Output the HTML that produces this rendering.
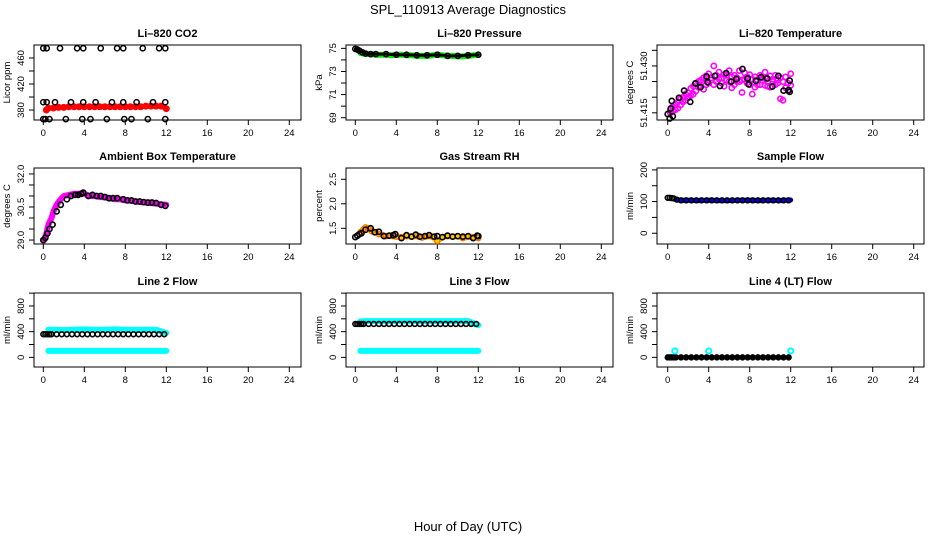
<!DOCTYPE html>
<html><head><meta charset="utf-8"><style>
html,body{margin:0;padding:0;background:#fff}
svg{display:block;font-family:"Liberation Sans",Arial,sans-serif}
</style></head><body>
<svg id="chart" width="936" height="540" viewBox="0 0 936 540" xmlns="http://www.w3.org/2000/svg">
<rect x="0" y="0" width="936" height="540" fill="#fff"/>
<text x="468" y="14" text-anchor="middle" font-size="13">SPL_110913  Average Diagnostics</text>
<text x="468" y="531" text-anchor="middle" font-size="13">Hour of Day (UTC)</text>
</svg>
<script>
// ---- data ----
const xTicks = [0,4,8,12,16,20,24];
// CO2
const co2BlackT = [0,0.33,1.63,3.3,3.9,5.6,7.2,7.8,9.7,11.3,11.9, 0,0.33,1.14,2.7,3.9,5.1,6.7,7.8,9.1,10.7,11.9, 0,0.2,0.6,2.2,3.8,4.6,6.2,7.9,8.6,10.2,11.9];
const co2BlackV = [475,475,475,475,475,475,475,475,475,475,475, 392,392,392,392,392,392,392,392,392,392,392, 366,366,366,366,366,366,366,366,366,366,366];
const co2RedT = [0.3,0.5,1,1.5,2,2.5,3,3.5,4,4.5,5,5.5,6,6.5,7,7.5,8,8.5,9,9.5,10,10.5,11,11.5,12];
const co2RedV = [380,383,383,384,384,385,385,385,385,385,385,385,385,385,385,385,385,385,385,385,386,386,386,386,382];
// Pressure
const presBlackT = [0,0.2,0.4,0.7,1,1.5,2,3,4,5,6,7,8,9,10,11,12];
const presBlackV = [74.95,74.9,74.8,74.65,74.55,74.5,74.5,74.5,74.45,74.45,74.4,74.4,74.45,74.35,74.35,74.4,74.45];
const presGreenT = [0.5,1,1.5,2,2.5,3,3.5,4,4.5,5,5.5,6,6.5,7,7.5,8,8.5,9,9.5,10,10.5,11,11.5,12];
const presGreenV = [74.6,74.5,74.5,74.45,74.45,74.45,74.4,74.45,74.45,74.4,74.4,74.35,74.35,74.35,74.4,74.45,74.4,74.35,74.35,74.3,74.3,74.35,74.4,74.45];
// Li-820 temperature
const tempBlackT = [0,0.2,0.3,0.4,0.5,1.1,1.6,2.2,2.7,3.2,3.8,3.9,4.6,5.1,5.7,6.2,6.7,7.3,7.8,7.9,8.6,9.1,9.7,10.2,10.8,11.3,11.8,11.9,11.9];
const tempBlackV = [51.4146,51.4132,51.4164,51.4188,51.4139,51.4198,51.4221,51.4185,51.4244,51.4232,51.4266,51.4248,51.4268,51.4236,51.4277,51.4250,51.4258,51.4290,51.4260,51.4241,51.4252,51.4264,51.4260,51.4234,51.4268,51.4221,51.4223,51.4253,51.4217];
const tempMagT = [0.25,0.5,0.75,1,1.25,1.5,1.75,2,2.25,2.5,2.75,3,3.25,3.5,3.75,4,4.25,4.5,4.75,5,5.25,5.5,5.75,6,6.25,6.5,6.75,7,7.25,7.5,7.75,8,8.25,8.5,8.75,9,9.25,9.5,9.75,10,10.25,10.5,10.75,11,11.25,11.5,11.75,12];
const tempMagA = [51.4150,51.4170,51.4160,51.4185,51.4175,51.4200,51.4190,51.4215,51.4205,51.4235,51.4220,51.4250,51.4235,51.4262,51.4240,51.4275,51.4255,51.4300,51.4250,51.4280,51.4245,51.4272,51.4255,51.4285,51.4230,51.4270,51.4250,51.4285,51.4255,51.4278,51.4245,51.4272,51.4210,51.4265,51.4240,51.4270,51.4255,51.4280,51.4235,51.4268,51.4250,51.4270,51.4245,51.4262,51.4190,51.4265,51.4245,51.4275];
const tempMagB = [51.4158,51.4155,51.4178,51.4165,51.4195,51.4185,51.4210,51.4198,51.4228,51.4210,51.4245,51.4232,51.4255,51.4225,51.4268,51.4245,51.4262,51.4240,51.4270,51.4258,51.4262,51.4235,51.4270,51.4250,51.4265,51.4240,51.4262,51.4250,51.4215,51.4258,51.4265,51.4240,51.4258,51.4232,51.4255,51.4240,51.4262,51.4238,51.4250,51.4232,51.4258,51.4240,51.4255,51.4195,51.4250,51.4230,51.4220,51.4238];
// Ambient box temperature
const ambBlackT = [0,0.2,0.4,0.6,0.9,1.3,1.7,2.3,2.7,3.1,3.4,3.7,3.9,4.4,4.8,5.2,5.6,6,6.4,6.8,7.2,7.8,8.2,8.6,9,9.4,9.8,10.2,10.6,11,11.5,11.9];
const ambBlackV = [29.0,29.1,29.3,29.5,29.7,30.3,30.6,30.85,31.0,31.05,31.05,31.1,31.15,31.0,31.05,31.0,31.0,30.95,30.9,30.9,30.9,30.85,30.8,30.8,30.75,30.75,30.72,30.7,30.7,30.68,30.6,30.55];
const ambMagT = [0.1,0.3,0.5,0.8,1,1.3,1.6,2,2.5,3,3.5,4,4.5,5,5.5,6,6.5,7,7.5,8,8.5,9,9.5,10,10.5,11,11.5,12];
const ambMagV = [29.0,29.3,29.7,30.0,30.3,30.6,30.8,31.0,31.05,31.1,31.1,31.1,31.0,31.0,30.95,30.95,30.9,30.85,30.85,30.8,30.78,30.75,30.72,30.7,30.68,30.65,30.62,30.6];
// Gas stream RH
const rhBlackT = [0,0.2,0.4,0.6,1.0,1.5,1.9,2.3,2.8,3.3,3.7,3.9,4.5,5,5.5,5.9,6.3,6.8,7.2,7.7,8,8.5,9,9.5,10,10.5,11,11.5,11.9,12];
const rhBlackV = [1.32,1.35,1.38,1.4,1.47,1.5,1.42,1.43,1.34,1.35,1.36,1.38,1.3,1.36,1.33,1.37,1.33,1.34,1.36,1.33,1.34,1.32,1.35,1.33,1.34,1.33,1.34,1.3,1.35,1.34];
const rhOrangeT = [0.5,0.8,1,1.3,1.6,2,2.3,2.7,3,3.3,3.7,4,4.5,5,5.5,6,6.5,7,7.5,8,8.5,9,9.5,10,10.5,11,11.5,12];
const rhOrangeV = [1.42,1.48,1.52,1.5,1.44,1.42,1.38,1.36,1.34,1.35,1.34,1.33,1.32,1.34,1.33,1.34,1.31,1.34,1.33,1.24,1.32,1.34,1.33,1.34,1.3,1.33,1.32,1.3];
// Sample flow
const sfBlackT = [0,0.2,0.4,0.6,0.9,1.3,1.8,2.3,2.8,3.3,3.8,4.3,4.8,5.3,5.8,6.3,6.8,7.3,7.8,8.3,8.8,9.3,9.8,10.3,10.8,11.3,11.8];
const sfBlackV = [112,112,111,110,106,104,104,104,104,104,104,104,104,104,104,104,104,104,104,104,104,104,104,104,104,104,104];
const sfBlueT = [0.8,1.5,2,3,4,5,6,7,8,9,10,11,12];
const sfBlueV = [106,104,104,103,104,103,103,104,104,103,104,103,105];
// Line 2 flow
const l2BlackT = [0,0.2,0.4,0.6,0.8,1.3,1.8,2.3,2.8,3.3,3.8,4.3,4.8,5.3,5.8,6.3,6.8,7.3,7.8,8.3,8.8,9.3,9.8,10.3,10.8,11.3,11.8];
const l2BlackV = [360,360,360,360,360,360,360,360,360,360,360,360,360,360,360,360,360,360,360,360,360,360,360,360,360,360,360];
const l2CyanT = [0.5,1,2,3,4,5,6,7,8,9,10,11,12];
const l2CyanHi = [430,430,425,430,435,430,430,435,430,430,430,430,380];
const l2CyanLo = [100,100,100,100,100,100,100,100,100,100,100,100,100];
// Line 3 flow
const l3BlackT = [0,0.2,0.4,0.6,0.8,1.3,1.8,2.3,2.8,3.3,3.8,4.3,4.8,5.3,5.8,6.3,6.8,7.3,7.8,8.3,8.8,9.3,9.8,10.3,10.8,11.3,11.8];
const l3BlackV = [520,520,520,520,520,520,520,520,520,520,520,520,520,520,520,520,520,520,520,520,520,520,520,520,520,520,520];
const l3CyanT = [0.5,1,2,3,4,5,6,7,8,9,10,11,12];
const l3CyanHi = [560,565,565,565,565,565,565,565,565,565,565,565,500];
const l3CyanLo = [100,100,100,100,100,100,100,100,100,100,100,100,100];
// Line 4 flow
const l4BlackT = [0,0.2,0.4,0.6,0.8,1.3,1.8,2.3,2.8,3.3,3.8,4.3,4.8,5.3,5.8,6.3,6.8,7.3,7.8,8.3,8.8,9.3,9.8,10.3,10.8,11.3,11.8];
const l4BlackV = [0,0,0,0,0,0,0,0,0,0,0,0,0,0,0,0,0,0,0,0,0,0,0,0,0,0,0];
const l4CyanT = [0.7,4,12];
const l4CyanV = [100,100,100];

// ---- drawing ----
const NS = 'http://www.w3.org/2000/svg';
const svg = document.getElementById('chart');
function mk(tag, attrs, parent){ const e=document.createElementNS(NS,tag); for(const k in attrs) e.setAttribute(k,attrs[k]); (parent||svg).appendChild(e); return e; }

const colBox = [[34,301],[346,613],[657,924]];
const colZero = [43.3,355.3,667.7];
const rowBox = [[45,120],[168,244],[293,367]];
const HR = 10.25;

function panel(id, col, row, title, ylab, dom, ticks, labels, fmt){
  const g = mk('g',{});
  
  
  const [x0,x1]=colBox[col], [y0,y1]=rowBox[row];
  const xs = h => colZero[col] + h*HR;
  const ys = v => y1 - (v-dom[0])/(dom[1]-dom[0])*(y1-y0);
  const t = mk('text',{x:(x0+x1)/2,y:y0-8,'text-anchor':'middle','font-size':11,'font-weight':'bold'},g);
  t.textContent = title;
  
  
  const b = mk('rect',{x:x0,y:y0,width:x1-x0,height:y1-y0,fill:'none',stroke:'#000','stroke-width':1},g);
  
  
  xTicks.forEach(h=>{
    mk('line',{x1:xs(h),x2:xs(h),y1:y1,y2:y1+5,stroke:'#000'},g);
    const tl = mk('text',{x:xs(h),y:y1+16,'text-anchor':'middle','font-size':9.5},g);
    tl.textContent = h;
    
    
  });
  ticks.forEach(v=>{
    mk('line',{x1:x0-5,x2:x0,y1:ys(v),y2:ys(v),stroke:'#000'},g);
  });
  labels.forEach(v=>{
    const yy=ys(v);
    const tl = mk('text',{x:x0-10,y:yy,'text-anchor':'middle','font-size':9.5,transform:`rotate(-90 ${x0-10} ${yy})`},g);
    tl.textContent = fmt(v);
    
    
  });
  const yl = mk('text',{x:x0-24,y:(y0+y1)/2,'text-anchor':'middle','font-size':9.5,transform:`rotate(-90 ${x0-24} ${(y0+y1)/2})`},g);
  yl.textContent = ylab;
  
  
  return {g,xs,ys};
}
function band(p, T, V, color, w, name){
  const pts = T.map((t,i)=>p.xs(t).toFixed(1)+','+p.ys(V[i]).toFixed(1)).join(' ');
  const l = mk('polyline',{points:pts,fill:'none',stroke:color,'stroke-width':w,'stroke-linejoin':'round','stroke-linecap':'round'},p.g);
  
  
}
function pts(p, T, V, color, sw, r, name){
  T.forEach((t,i)=>{
    const c = mk('circle',{cx:p.xs(t),cy:p.ys(V[i]),r:r,fill:'none',stroke:color,'stroke-width':sw},p.g);
    
    
  });
}
const f0 = v=>String(v), f1 = v=>v.toFixed(1), f3 = v=>v.toFixed(3);
function rng(a,b,s){ const o=[]; for(let v=a; v<=b+1e-9; v+=s) o.push(+v.toFixed(4)); return o; }

// Panel 1: CO2
let p = panel('co2',0,0,'Li–820 CO2','Licor ppm',[364.6,480],rng(380,460,20),[380,420,460],f0);
band(p,co2RedT,co2RedV,'#ff0000',5,'co2-red-series');
pts(p,co2RedT,co2RedV,'#ff0000',2,2.5,'co2-red-point');
pts(p,co2BlackT,co2BlackV,'#000',1.5,2.6,'co2-black-point');
// Panel 2: pressure
p = panel('pressure',1,0,'Li–820 Pressure','kPa',[68.8,75.29],rng(69,75,1),[69,71,73,75],f0);
band(p,presGreenT,presGreenV,'#00ee00',6,'pressure-green-series');
band(p,presBlackT,presBlackV,'#000',3,'pressure-black-line');
pts(p,presBlackT,presBlackV,'#000',1.5,2.6,'pressure-black-point');
// Panel 3: Li-820 temperature
p = panel('li820-temp',2,0,'Li–820 Temperature','degrees C',[51.4127,51.4367],rng(51.415,51.435,0.005),[51.415,51.430],f3);
pts(p,tempMagT,tempMagA,'#ff00ff',1.6,2.6,'li820-temp-magenta-point');
pts(p,tempMagT,tempMagB,'#ff00ff',1.6,2.6,'li820-temp-magenta-point');
pts(p,tempBlackT,tempBlackV,'#000',1.6,2.6,'li820-temp-black-point');
// Panel 4: ambient
p = panel('ambient',0,1,'Ambient Box Temperature','degrees C',[28.82,32.27],rng(29,32,0.5),[29.0,30.5,32.0],f1);
band(p,ambMagT,ambMagV,'#ff00ff',6,'ambient-magenta-series');
pts(p,ambBlackT,ambBlackV,'#000',1.6,2.6,'ambient-black-point');
// Panel 5: RH
p = panel('rh',1,1,'Gas Stream RH','percent',[1.18,2.73],[1.5,2.0,2.5],[1.5,2.0,2.5],f1);
band(p,rhOrangeT,rhOrangeV,'#ffcc00',6,'rh-yellow-series');
pts(p,rhOrangeT,rhOrangeV,'#ff6600',1.2,2.6,'rh-orange-point');
pts(p,rhBlackT,rhBlackV,'#000',1.6,2.6,'rh-black-point');
// Panel 6: sample flow
p = panel('sample-flow',2,1,'Sample Flow','ml/min',[-34,206],rng(0,200,50),[0,100,200],f0);
band(p,sfBlueT,sfBlueV,'#0000ff',5,'sample-flow-blue-series');
pts(p,sfBlackT,sfBlackV,'#000',1.6,2.4,'sample-flow-black-point');
// Panel 7: line 2
p = panel('line2',0,2,'Line 2 Flow','ml/min',[-150,1002],rng(0,1000,200),[0,400,800],f0);
band(p,l2CyanT,l2CyanHi,'#00ffff',6,'line2-cyan-high-series');
band(p,l2CyanT,l2CyanLo,'#00ffff',6,'line2-cyan-low-series');
pts(p,l2BlackT,l2BlackV,'#000',1.6,2.4,'line2-black-point');
// Panel 8: line 3
p = panel('line3',1,2,'Line 3 Flow','ml/min',[-150,1002],rng(0,1000,200),[0,400,800],f0);
band(p,l3CyanT,l3CyanHi,'#00ffff',6,'line3-cyan-high-series');
band(p,l3CyanT,l3CyanLo,'#00ffff',6,'line3-cyan-low-series');
pts(p,l3BlackT,l3BlackV,'#000',1.6,2.4,'line3-black-point');
// Panel 9: line 4
p = panel('line4',2,2,'Line 4 (LT) Flow','ml/min',[-150,1002],rng(0,1000,200),[0,400,800],f0);
band(p,l4BlackT,l4BlackV,'#000',4,'line4-black-line');
pts(p,l4BlackT,l4BlackV,'#000',1.6,2.4,'line4-black-point');
pts(p,l4CyanT,l4CyanV,'#00ffff',2,2.6,'line4-cyan-point');
</script>
</body></html>
